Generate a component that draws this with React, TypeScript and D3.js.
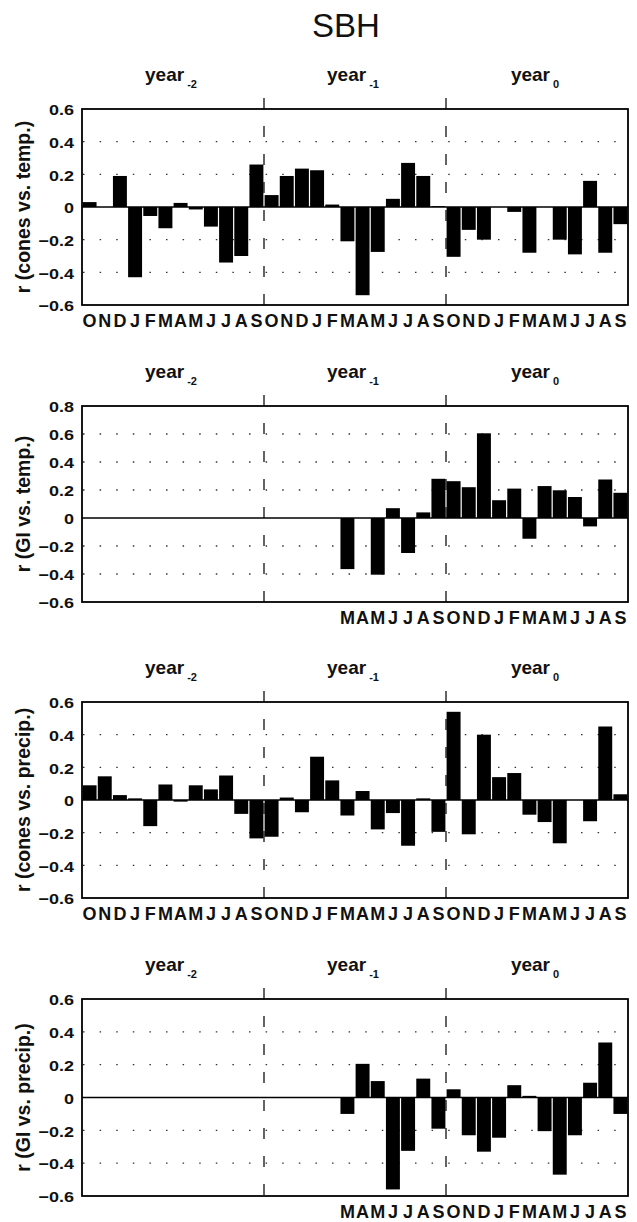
import React from "react";
import * as d3 from "d3";

// ---- data ----
const monthLetters = [
  "O","N","D","J","F","M","A","M","J","J","A","S",
  "O","N","D","J","F","M","A","M","J","J","A","S",
  "O","N","D","J","F","M","A","M","J","J","A","S",
];
const yearNames = ["year", "year", "year"];
const yearSubs = ["-2", "-1", "0"];

const conesTemp = [
  0.03, 0.0, 0.19, -0.43, -0.055, -0.13, 0.025, -0.015, -0.12, -0.34, -0.3, 0.26,
  0.073, 0.19, 0.235, 0.225, 0.015, -0.21, -0.54, -0.275, 0.05, 0.27, 0.19, 0.005,
  -0.305, -0.14, -0.2, 0.0, -0.03, -0.28, 0.0, -0.2, -0.29, 0.16, -0.28, -0.105,
];
const giTemp = [
  null, null, null, null, null, null, null, null, null, null, null, null,
  null, null, null, null, null, -0.365, 0.0, -0.405, 0.07, -0.25, 0.04, 0.28,
  0.263, 0.22, 0.605, 0.127, 0.21, -0.148, 0.228, 0.198, 0.15, -0.06, 0.275, 0.18,
];
const conesPrecip = [
  0.09, 0.145, 0.03, 0.01, -0.16, 0.095, -0.01, 0.09, 0.065, 0.15, -0.085, -0.235,
  -0.225, 0.015, -0.075, 0.265, 0.12, -0.095, 0.055, -0.18, -0.08, -0.28, 0.01, -0.195,
  0.54, -0.21, 0.4, 0.14, 0.165, -0.09, -0.135, -0.265, 0.0, -0.13, 0.45, 0.035,
];
const giPrecip = [
  null, null, null, null, null, null, null, null, null, null, null, null,
  null, null, null, null, null, -0.1, 0.205, 0.1, -0.56, -0.325, 0.115, -0.19,
  0.05, -0.23, -0.33, -0.245, 0.075, 0.01, -0.205, -0.47, -0.23, 0.09, 0.335, -0.1,
];
const ticks06 = [-0.6, -0.4, -0.2, 0, 0.2, 0.4, 0.6];
const ticks08 = [-0.6, -0.4, -0.2, 0, 0.2, 0.4, 0.6, 0.8];
const tickText = (t: number) => (t === 0 ? "0" : d3.format(".1f")(t));

// ---- layout ----
const W = 637;
const H = 1222;
const LEFT = 82;
const RIGHT = 628;

const panels = [
  { top: 109, bottom: 305, ylabel: "r (cones vs. temp.)", values: conesTemp, ticks: ticks06, firstLabel: 0 },
  { top: 406, bottom: 602, ylabel: "r (GI vs. temp.)", values: giTemp, ticks: ticks08, firstLabel: 17 },
  { top: 702, bottom: 898, ylabel: "r (cones vs. precip.)", values: conesPrecip, ticks: ticks06, firstLabel: 0 },
  { top: 999, bottom: 1196, ylabel: "r (GI vs. precip.)", values: giPrecip, ticks: ticks06, firstLabel: 17 },
];

const FONT = "'Liberation Sans', Arial, Helvetica, sans-serif";

export default function App() {
  const x = d3
    .scaleBand<number>()
    .domain(d3.range(monthLetters.length))
    .range([LEFT, RIGHT])
    .paddingInner(0.08)
    .paddingOuter(0.04);
  const half = (x.step() - x.bandwidth()) / 2;
  const boundary = (i: number) =>
    i >= monthLetters.length ? RIGHT : (x(i) as number) - half;

  return (
    <svg
      width={W}
      height={H}
      style={{ position: "absolute", left: 0, top: 0, background: "#fff" }}
      fontFamily={FONT}
    >
      <rect x={0} y={0} width={W} height={H} fill="#fff" />
      <text x={346} y={37} fontSize={33} textAnchor="middle" fill="#111">
        SBH
      </text>
      {panels.map((p, pi) => {
        const dom = d3.extent(p.ticks) as [number, number];
        const y = d3.scaleLinear().domain(dom).range([p.bottom, p.top]);
        return (
          <g key={pi}>
            {/* dotted grid */}
            {p.ticks
              .filter((t) => t !== 0 && t !== dom[0] && t !== dom[1])
              .map((t) => (
                <line
                  key={t}
                  x1={LEFT}
                  x2={RIGHT}
                  y1={y(t)}
                  y2={y(t)}
                  stroke="#333"
                  strokeWidth={1.3}
                  strokeDasharray="1.5 15.1"
                  strokeDashoffset={-1}
                />
              ))}
            {/* year separators */}
            {[12, 24].map((i) => (
              <line
                key={i}
                x1={boundary(i)}
                x2={boundary(i)}
                y1={p.top - 11}
                y2={p.bottom}
                stroke="#111"
                strokeWidth={1.3}
                strokeDasharray="11 17"
              />
            ))}
            {/* bars */}
            {p.values.map((v, i) =>
              v === null ? null : (
                <rect
                  key={i}
                  x={x(i)}
                  width={x.bandwidth()}
                  y={y(Math.max(0, v))}
                  height={Math.abs(y(v) - y(0))}
                  fill="#000"
                />
              )
            )}
            {/* zero line */}
            <line x1={LEFT} x2={RIGHT} y1={y(0)} y2={y(0)} stroke="#000" strokeWidth={1.6} />
            {/* frame */}
            <rect
              x={LEFT}
              y={p.top}
              width={RIGHT - LEFT}
              height={p.bottom - p.top}
              fill="none"
              stroke="#000"
              strokeWidth={1.8}
            />
            {/* tick labels */}
            {p.ticks.map((t) => (
              <text
                key={t}
                transform={`translate(74,${y(t)}) scale(1.2,1)`}
                dy="0.42em"
                textAnchor="end"
                fontSize={15}
                fontWeight="bold"
                fill="#111"
              >
                {tickText(t)}
              </text>
            ))}
            {/* y label */}
            <text
              transform={`translate(30,${(p.top + p.bottom) / 2}) rotate(-90)`}
              textAnchor="middle"
              fontSize={19.5}
              fontWeight="bold"
              fill="#111"
            >
              {p.ylabel}
            </text>
            {/* year labels */}
            {yearNames.map((nm, k) => (
              <text
                key={k}
                x={(boundary(k * 12) + boundary(k * 12 + 12)) / 2 - 2}
                y={p.top - 28}
                textAnchor="middle"
                fontSize={19}
                fontWeight="bold"
                fill="#111"
              >
                {nm}
                <tspan fontSize={11} dx={3} dy={7}>
                  {yearSubs[k]}
                </tspan>
              </text>
            ))}
            {/* month letters */}
            {monthLetters.map((m, i) =>
              i < p.firstLabel ? null : (
                <text
                  key={i}
                  x={(x(i) as number) + x.bandwidth() / 2}
                  y={p.bottom + 22}
                  textAnchor="middle"
                  fontSize={18}
                  fontWeight="bold"
                  fill="#111"
                >
                  {m}
                </text>
              )
            )}
          </g>
        );
      })}
    </svg>
  );
}
